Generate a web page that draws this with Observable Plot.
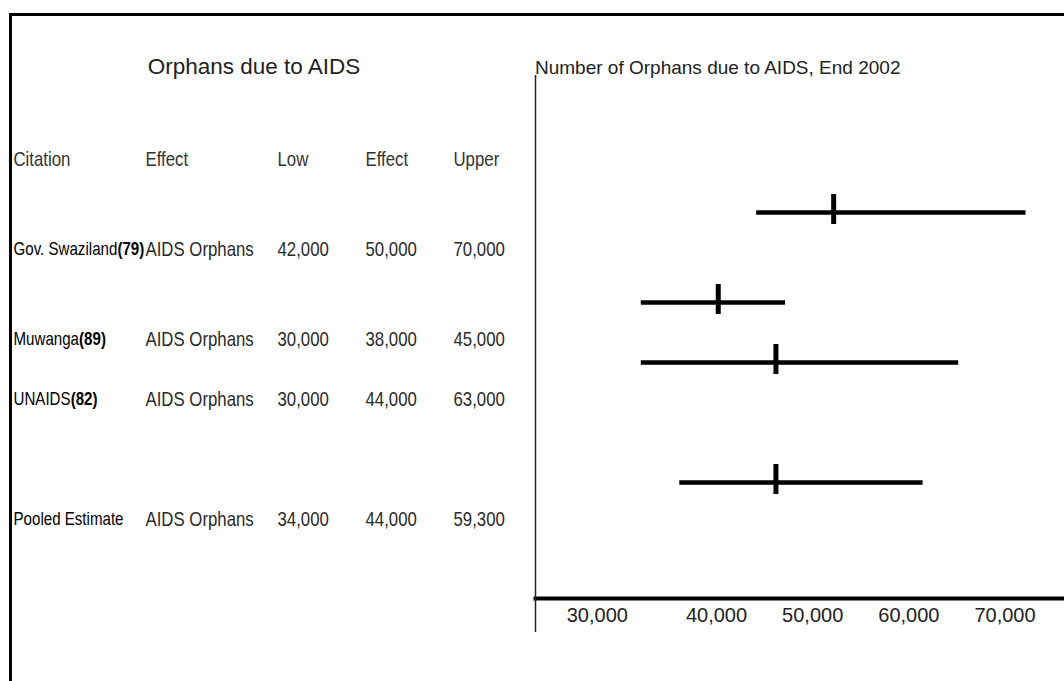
<!DOCTYPE html>
<html>
<head>
<meta charset="utf-8">
<script src="https://cdn.jsdelivr.net/npm/d3@7"></script>
<script src="https://cdn.jsdelivr.net/npm/@observablehq/plot@0.6"></script>
<style>
  html, body { margin: 0; padding: 0; background: #fff; }
  #wrap { position: relative; width: 1064px; height: 681px; overflow: hidden; background: #fff; }
  #border { position: absolute; left: 9px; top: 13px; right: -10px; bottom: -10px;
            border-top: 3px solid #000; border-left: 3px solid #000; z-index: 5; pointer-events: none; }
  .title { position: absolute; font-family: "Liberation Sans", Arial, sans-serif; color: #222; white-space: nowrap; }
  #t1 { left: 0; width: 508px; text-align: center; top: 56px; font-size: 22.5px; line-height: 22px; }
  #t2 { left: 535px; top: 58px; font-size: 19px; line-height: 19px; }
  #left { position: absolute; left: 0; top: 0; }
  #right { position: absolute; left: 530px; top: 0; }
</style>
</head>
<body>
<div id="wrap">
  <div id="border"></div>
  <div class="title" id="t1">Orphans due to AIDS</div>
  <div class="title" id="t2">Number of Orphans due to AIDS, End 2002</div>
  <div id="left"></div>
  <div id="right"></div>
</div>
<script>
// ---- data ----
const citations = ["Gov. Swaziland", "Muwanga", "UNAIDS", "Pooled Estimate"];
const refs = ["79", "89", "82", ""];
const effectNames = ["AIDS Orphans", "AIDS Orphans", "AIDS Orphans", "AIDS Orphans"];
const low = [42000, 30000, 30000, 34000];
const effect = [50000, 38000, 44000, 44000];
const upper = [70000, 45000, 63000, 59300];
const headers = ["Citation", "Effect", "Low", "Effect", "Upper"];
const xTicks = [30000, 40000, 50000, 60000, 70000];

const rowKeys = ["gov", "muwanga", "unaids", "pooled"];
const colKeys = ["citation", "effect", "low", "estimate", "upper"];
const fmt = d3.format(",");

const rows = citations.map((c, i) => ({
  key: rowKeys[i],
  name: c,
  ref: refs[i],
  effectName: effectNames[i],
  low: low[i], effect: effect[i], upper: upper[i]
}));

// ordinal slot domains (spacer slots give the table its irregular spacing)
const colSlots = ["citation", "c1", "c2", "effect", "c3", "c4", "low", "c5", "estimate", "c6", "upper"];
const tableSlots = ["header", "s1", "s2", "gov", "s3", "s4", "muwanga", "s5", "unaids", "s6", "s7", "s8", "pooled"];
const barSlots = ["gov", "r1", "r2", "muwanga", "r3", "unaids", "r4", "r5", "r6", "pooled"];

const sans = "'Liberation Sans', Arial, sans-serif";
const f = 0.84; // condensed (Arial Narrow-like) look

// ---- left table ----
const colText = (key, text, extra = {}) => Plot.text(rows, {
  x: () => key, y: "key", text, textAnchor: "start", fill: "#2a2a2a", ...extra
});

const left = Plot.plot({
  width: 530, height: 681,
  marginLeft: 13, marginRight: 77, marginTop: 157.5, marginBottom: 160.4,
  x: {type: "point", domain: colSlots, padding: 0, axis: null},
  y: {type: "point", domain: tableSlots, padding: 0, axis: null},
  style: {fontFamily: sans, fontSize: "20px", background: "transparent", color: "#222"},
  marks: [
    Plot.text(headers, {x: (d, i) => colKeys[i], y: () => "header", text: d => d,
      textAnchor: "start", fill: "#333"}),
    colText("citation", "name", {fill: "#000", fontSize: 18}),
    colText("effect", "effectName"),
    colText("low", d => fmt(d.low)),
    colText("estimate", d => fmt(d.effect)),
    colText("upper", d => fmt(d.upper))
  ]
});
document.getElementById("left").appendChild(left);

// condense the table text horizontally (scale about each text's anchor),
// then append the bold reference numbers right after the citation names
Array.from(left.querySelectorAll("text")).forEach(t => {
  const content = t.textContent;
  const w = t.getComputedTextLength();
  const tr = t.getAttribute("transform") || "";
  const x = parseFloat(t.getAttribute("x")) || 0;
  t.removeAttribute("x");
  t.setAttribute("transform", `${tr} translate(${x},0) scale(${f},1)`);
  const r = rows.find(r => r.ref && r.name === content);
  if (r) {
    const b = t.cloneNode(false);
    b.textContent = `(${r.ref})`;
    b.setAttribute("font-weight", "bold");
    b.setAttribute("transform", `${tr} translate(${x + w * f},0) scale(${f},1)`);
    t.parentNode.insertBefore(b, t.nextSibling);
  }
});

// ---- right forest plot ----
const xDomain = [19000, 74000];
const axisOpts = {tickFormat: fmt, tickSize: 0, tickPadding: 9, label: null, fontSize: 20};

const right = Plot.plot({
  width: 534, height: 681,
  marginLeft: 5, marginRight: 0, marginTop: 75, marginBottom: 83,
  x: {domain: xDomain, label: null},
  y: {type: "point", domain: barSlots, padding: 0, insetTop: 133, insetBottom: 112, axis: null},
  style: {fontFamily: sans, fontSize: "20px", background: "transparent", color: "#222"},
  marks: [
    Plot.frame({anchor: "bottom", stroke: "#000", strokeWidth: 4}),
    Plot.ruleX([xDomain[0]], {stroke: "#222", strokeWidth: 1.5, insetBottom: -34}),
    Plot.ruleY(rows, {x1: "low", x2: "upper", y: "key", stroke: "#000", strokeWidth: 4.5}),
    Plot.ruleX(rows, {x: "effect", y1: "key", y2: "key", insetTop: -18, insetBottom: -12,
      stroke: "#000", strokeWidth: 5}),
    Plot.axisX({...axisOpts, ticks: xTicks.slice(0, 1), dx: -44}),
    Plot.axisX({...axisOpts, ticks: xTicks.slice(1), dx: -21})
  ]
});
document.getElementById("right").appendChild(right);
</script>
</body>
</html>
